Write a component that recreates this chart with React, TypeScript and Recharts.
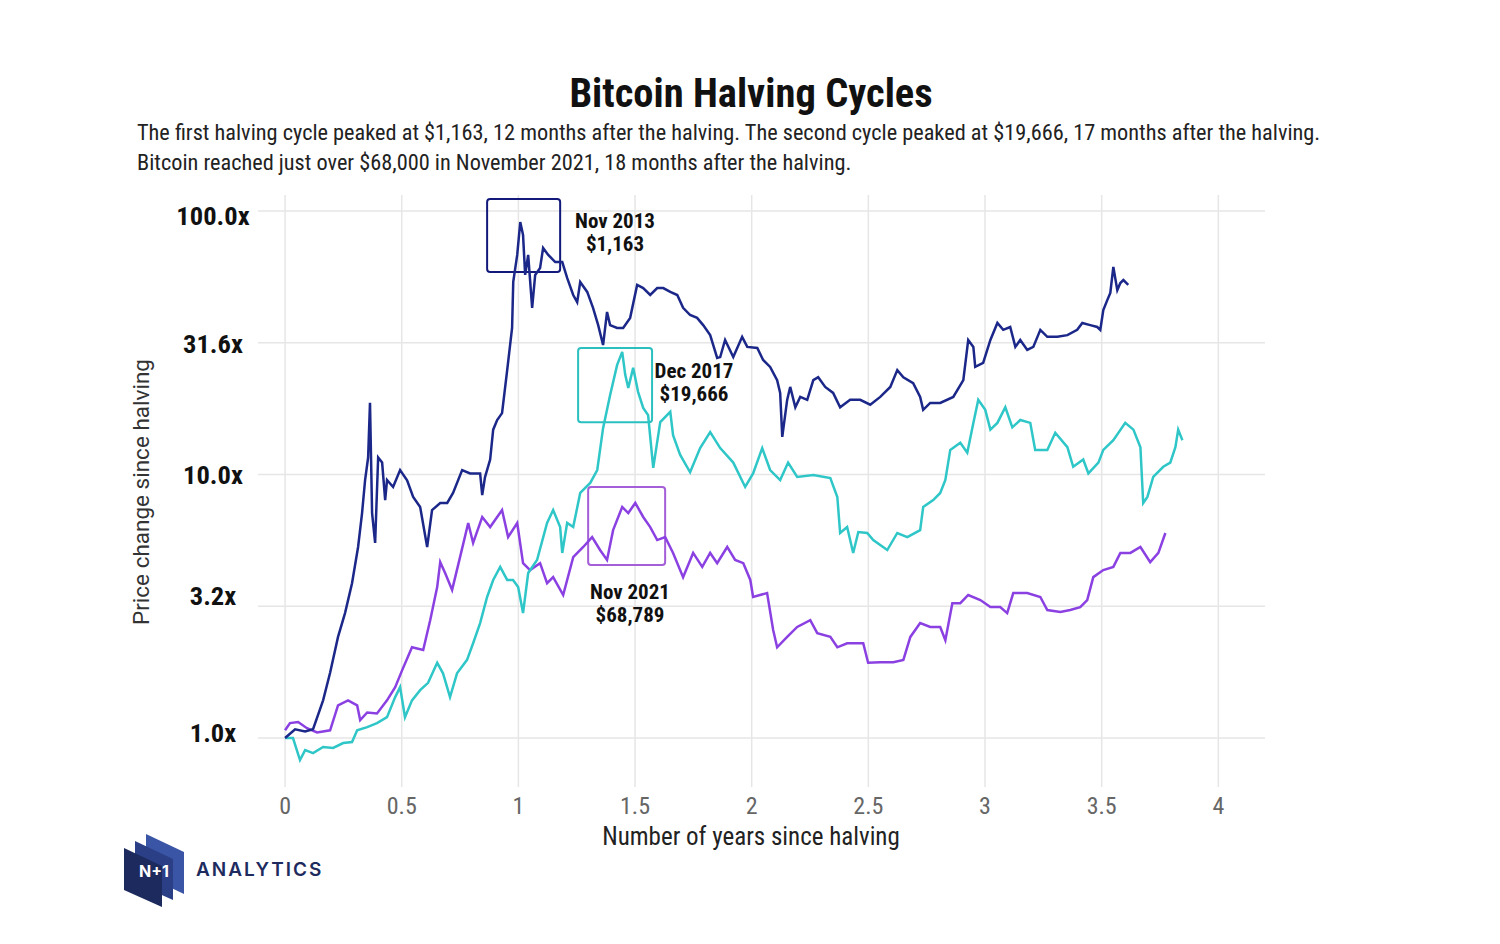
import React from "react";
import {
  LineChart,
  Line,
  XAxis,
  YAxis,
  CartesianGrid,
  ReferenceArea,
} from "recharts";

// [years since halving, price multiple since halving]
const cycle2012: [number, number][] = [
  [0, 1.0], [0.043, 1.08], [0.086, 1.06], [0.12, 1.08], [0.163, 1.39], [0.193, 1.77],
  [0.227, 2.42], [0.257, 2.98], [0.287, 3.87], [0.313, 5.31], [0.33, 7.14], [0.343, 9.53],
  [0.356, 11.6], [0.364, 18.7], [0.373, 7.14], [0.386, 5.5], [0.399, 11.6], [0.416, 11.1],
  [0.429, 8.0], [0.437, 9.53], [0.463, 8.97], [0.493, 10.4], [0.523, 9.5], [0.549, 8.22],
  [0.579, 7.53], [0.609, 5.31], [0.63, 7.33], [0.665, 7.8], [0.695, 7.8], [0.72, 8.51],
  [0.759, 10.4], [0.793, 10.1], [0.836, 10.1], [0.845, 8.36], [0.857, 9.78], [0.879, 11.4],
  [0.892, 14.8], [0.909, 16.1], [0.93, 17.1], [0.952, 24.9], [0.973, 36.0], [0.978, 53.8],
  [0.995, 68.1], [1.008, 90.8], [1.02, 81.1], [1.029, 57.2], [1.042, 68.1], [1.059, 42.9],
  [1.072, 57.2], [1.093, 60.8], [1.106, 72.4], [1.128, 68.1], [1.158, 64.0], [1.188, 64.0],
  [1.209, 55.7], [1.235, 48.0], [1.252, 45.1], [1.265, 53.8], [1.295, 49.3], [1.32, 42.9],
  [1.342, 36.9], [1.363, 31.0], [1.38, 41.4], [1.393, 36.9], [1.423, 36.0], [1.449, 36.0],
  [1.479, 39.3], [1.509, 52.4], [1.535, 51.0], [1.565, 48.0], [1.595, 51.0], [1.621, 51.0],
  [1.651, 49.3], [1.681, 48.0], [1.706, 42.9], [1.736, 40.3], [1.766, 39.3], [1.792, 36.9],
  [1.822, 33.8], [1.852, 27.7], [1.865, 27.9], [1.886, 32.4], [1.921, 27.9], [1.959, 33.3],
  [1.981, 30.5], [2.024, 30.2], [2.049, 27.2], [2.079, 25.6], [2.109, 22.8], [2.122, 20.4],
  [2.131, 13.9], [2.152, 19.2], [2.165, 21.5], [2.187, 18.0], [2.208, 19.7], [2.238, 19.2],
  [2.264, 22.8], [2.285, 23.4], [2.315, 21.5], [2.349, 20.4], [2.379, 18.0], [2.422, 19.2],
  [2.465, 19.2], [2.508, 18.4], [2.551, 19.7], [2.594, 21.5], [2.624, 24.9], [2.65, 23.4],
  [2.692, 22.2], [2.722, 19.7], [2.735, 17.6], [2.765, 18.7], [2.808, 18.7], [2.864, 19.7],
  [2.907, 22.8], [2.928, 32.4], [2.95, 30.5], [2.958, 25.6], [2.992, 26.5], [3.023, 32.4],
  [3.053, 37.6], [3.078, 35.4], [3.108, 36.3], [3.13, 30.5], [3.151, 32.4], [3.181, 29.7],
  [3.207, 30.5], [3.237, 35.4], [3.267, 33.3], [3.31, 33.3], [3.353, 33.8], [3.395, 35.4],
  [3.417, 37.6], [3.451, 36.9], [3.481, 36.3], [3.494, 35.4], [3.507, 42.1], [3.524, 45.9],
  [3.537, 48.9], [3.55, 61.3], [3.567, 50.1], [3.58, 53.3], [3.593, 54.7], [3.614, 52.4],
];

const cycle2016: [number, number][] = [
  [0, 1.0], [0.034, 1.0], [0.064, 0.825], [0.086, 0.9], [0.12, 0.877], [0.163, 0.925],
  [0.206, 0.917], [0.249, 0.957], [0.287, 0.966], [0.309, 1.07], [0.352, 1.1], [0.394, 1.14],
  [0.437, 1.2], [0.472, 1.43], [0.493, 1.56], [0.514, 1.2], [0.544, 1.39], [0.579, 1.52],
  [0.613, 1.62], [0.652, 1.93], [0.677, 1.76], [0.707, 1.43], [0.737, 1.76], [0.78, 1.98],
  [0.806, 2.29], [0.836, 2.73], [0.866, 3.43], [0.892, 3.98], [0.922, 4.46], [0.952, 3.98],
  [0.977, 3.98], [0.999, 3.74], [1.02, 2.98], [1.042, 4.23], [1.08, 4.74], [1.123, 6.55],
  [1.149, 7.33], [1.179, 6.32], [1.188, 5.04], [1.209, 6.55], [1.235, 6.32], [1.265, 8.51],
  [1.308, 9.29], [1.338, 10.4], [1.363, 15.0], [1.393, 20.0], [1.423, 26.0], [1.445, 29.2],
  [1.458, 23.9], [1.471, 21.3], [1.492, 25.4], [1.513, 20.6], [1.535, 17.9], [1.556, 16.8],
  [1.578, 10.6], [1.608, 15.8], [1.651, 17.3], [1.663, 14.1], [1.693, 11.9], [1.736, 10.2],
  [1.779, 12.6], [1.822, 14.5], [1.865, 12.6], [1.921, 11.1], [1.972, 8.97], [2.006, 10.1],
  [2.045, 12.6], [2.079, 10.4], [2.122, 9.53], [2.156, 11.1], [2.195, 9.79], [2.264, 9.96],
  [2.337, 9.7], [2.367, 8.22], [2.379, 6.0], [2.409, 6.32], [2.435, 5.04], [2.457, 6.05],
  [2.495, 6.0], [2.521, 5.64], [2.581, 5.17], [2.624, 6.0], [2.667, 5.79], [2.722, 6.15],
  [2.735, 7.53], [2.778, 8.0], [2.808, 8.51], [2.83, 9.53], [2.851, 12.4], [2.894, 13.2],
  [2.924, 12.1], [2.95, 15.7], [2.971, 19.2], [3.001, 17.6], [3.023, 14.8], [3.053, 15.7],
  [3.087, 18.0], [3.117, 15.1], [3.151, 16.1], [3.194, 15.7], [3.215, 12.4], [3.267, 12.4],
  [3.301, 14.4], [3.353, 12.7], [3.378, 10.7], [3.421, 11.4], [3.443, 10.1], [3.486, 11.1],
  [3.507, 12.4], [3.55, 13.5], [3.601, 15.7], [3.636, 14.8], [3.666, 12.7], [3.678, 7.8],
  [3.696, 8.22], [3.721, 9.79], [3.764, 10.7], [3.794, 11.1], [3.816, 12.7], [3.828, 14.8],
  [3.846, 13.5],
];

const cycle2020: [number, number][] = [
  [0, 1.07], [0.021, 1.14], [0.056, 1.15], [0.094, 1.09], [0.137, 1.05], [0.193, 1.07],
  [0.227, 1.33], [0.27, 1.39], [0.309, 1.33], [0.322, 1.17], [0.352, 1.25], [0.394, 1.24],
  [0.437, 1.39], [0.472, 1.56], [0.502, 1.81], [0.544, 2.21], [0.592, 2.16], [0.622, 2.8],
  [0.652, 3.74], [0.665, 4.65], [0.686, 4.23], [0.716, 3.65], [0.75, 4.86], [0.785, 6.55],
  [0.806, 5.5], [0.845, 6.9], [0.879, 6.32], [0.93, 7.33], [0.956, 5.79], [0.995, 6.55],
  [1.02, 4.61], [1.05, 4.34], [1.093, 4.61], [1.123, 3.87], [1.149, 4.08], [1.192, 3.49],
  [1.235, 4.86], [1.278, 5.31], [1.316, 5.79], [1.35, 5.17], [1.38, 4.74], [1.406, 6.15],
  [1.445, 7.53], [1.471, 7.14], [1.501, 7.8], [1.535, 6.9], [1.565, 6.32], [1.595, 5.64],
  [1.629, 5.79], [1.663, 5.04], [1.706, 4.08], [1.749, 5.04], [1.788, 4.46], [1.822, 5.04],
  [1.852, 4.61], [1.895, 5.31], [1.929, 4.74], [1.964, 4.61], [1.994, 3.98], [2.006, 3.43],
  [2.066, 3.55], [2.092, 2.57], [2.109, 2.21], [2.152, 2.42], [2.195, 2.64], [2.251, 2.8],
  [2.281, 2.5], [2.337, 2.42], [2.367, 2.21], [2.409, 2.29], [2.478, 2.29], [2.499, 1.93],
  [2.551, 1.94], [2.607, 1.94], [2.65, 1.98], [2.68, 2.42], [2.722, 2.73], [2.765, 2.64],
  [2.808, 2.64], [2.83, 2.35], [2.86, 3.25], [2.894, 3.25], [2.928, 3.49], [2.98, 3.34],
  [3.023, 3.14], [3.065, 3.14], [3.095, 2.98], [3.121, 3.55], [3.181, 3.55], [3.237, 3.43],
  [3.267, 3.06], [3.323, 3.01], [3.365, 3.06], [3.408, 3.14], [3.438, 3.34], [3.464, 4.08],
  [3.507, 4.34], [3.55, 4.46], [3.58, 5.04], [3.623, 5.04], [3.666, 5.31], [3.708, 4.65],
  [3.743, 5.04], [3.773, 6.0],
];

const xTicks = [0, 0.5, 1, 1.5, 2, 2.5, 3, 3.5, 4];
const yTicks = [1, 3.1623, 10, 31.623, 100];
// the y tick labels sit a little off their grid lines in the original
const yLabelShift = [-6, -11, 0, 1, 5];

const toRows = (pts: [number, number][]) => pts.map(([t, v]) => ({ t, v }));

const COND = "'Roboto Condensed', 'Liberation Sans Narrow', Roboto, sans-serif";

const NAVY = "#1b2789";
const TEAL = "#2fc6c8";
const PURPLE = "#8b40e2";

function YTick({ y, payload, index }: any) {
  return (
    <text
      x={213}
      y={y + (yLabelShift[index] ?? 0)}
      textAnchor="middle"
      dominantBaseline="central"
      fontFamily={COND}
      fontWeight={700}
      fontSize={26.5}
      fill="#111"
    >
      {payload.value.toFixed(1) + "x"}
    </text>
  );
}

function XTick({ x, payload }: any) {
  return (
    <text x={x} y={814} textAnchor="middle" fontFamily={COND} fontSize={24} fill="#666">
      {payload.value}
    </text>
  );
}

const note = (left: number, top: number, lines: string[]) => (
  <div
    style={{
      position: "absolute",
      left,
      top,
      transform: "translateX(-50%)",
      textAlign: "center",
      fontFamily: COND,
      fontWeight: 700,
      fontSize: 21,
      lineHeight: "23px",
      color: "#111",
      whiteSpace: "nowrap",
    }}
  >
    {lines.map((l) => (
      <div key={l}>{l}</div>
    ))}
  </div>
);

export default function App() {
  return (
    <div
      style={{
        position: "absolute",
        left: 0,
        top: 0,
        width: 1500,
        height: 944,
        background: "#fff",
        overflow: "hidden",
      }}
    >
      <div
        style={{
          position: "absolute",
          left: 751,
          top: 69,
          transform: "translateX(-50%)",
          fontFamily: COND,
          fontWeight: 700,
          fontSize: 40.5,
          lineHeight: "48px",
          color: "#111",
          whiteSpace: "nowrap",
        }}
      >
        Bitcoin Halving Cycles
      </div>
      <div
        style={{
          position: "absolute",
          left: 137,
          top: 117,
          fontFamily: COND,
          fontSize: 22.3,
          lineHeight: "30px",
          color: "#222",
          whiteSpace: "nowrap",
        }}
      >
        <div>
          The first halving cycle peaked at $1,163, 12 months after the halving. The second cycle
          peaked at $19,666, 17 months after the halving.
        </div>
        <div>Bitcoin reached just over $68,000 in November 2021, 18 months after the halving.</div>
      </div>

      <div style={{ position: "absolute", left: 0, top: 0 }}>
        <LineChart
          width={1500}
          height={944}
          margin={{ top: 195, right: 235, bottom: 117, left: 158 }}
        >
          <CartesianGrid
            stroke="#e6e6e6"
            strokeWidth={1.5}
            horizontalValues={yTicks}
            verticalValues={xTicks}
          />
          <XAxis
            dataKey="t"
            type="number"
            domain={[-0.116, 4.2]}
            ticks={xTicks}
            allowDataOverflow
            axisLine={false}
            tickLine={false}
            height={40}
            tick={<XTick />}
          />
          <YAxis
            type="number"
            scale="log"
            domain={[0.652, 115]}
            ticks={yTicks}
            allowDataOverflow
            axisLine={false}
            tickLine={false}
            width={100}
            tick={<YTick />}
          />
          <Line
            data={toRows(cycle2020)}
            dataKey="v"
            stroke={PURPLE}
            strokeWidth={2.5}
            dot={false}
            isAnimationActive={false}
          />
          <Line
            data={toRows(cycle2016)}
            dataKey="v"
            stroke={TEAL}
            strokeWidth={2.5}
            dot={false}
            isAnimationActive={false}
          />
          <Line
            data={toRows(cycle2012)}
            dataKey="v"
            stroke={NAVY}
            strokeWidth={2.5}
            dot={false}
            isAnimationActive={false}
          />
          <ReferenceArea x1={0.866} x2={1.179} y1={58.7} y2={111} fill="none" stroke="#12197a" strokeWidth={2} radius={3} />
          <ReferenceArea x1={1.256} x2={1.573} y1={15.8} y2={30.2} fill="none" stroke="#2bc0c0" strokeWidth={2} radius={3} />
          <ReferenceArea x1={1.299} x2={1.629} y1={4.54} y2={8.97} fill="none" stroke="#a45ed8" strokeWidth={2} radius={3} />
        </LineChart>
      </div>

      {note(615, 210, ["Nov 2013", "$1,163"])}
      {note(694, 360, ["Dec 2017", "$19,666"])}
      {note(630, 581, ["Nov 2021", "$68,789"])}

      <div
        style={{
          position: "absolute",
          left: 141,
          top: 492,
          transform: "translate(-50%, -50%) rotate(-90deg)",
          fontFamily: "Roboto, sans-serif",
          fontSize: 22.5,
          color: "#333",
          whiteSpace: "nowrap",
        }}
      >
        Price change since halving
      </div>
      <div
        style={{
          position: "absolute",
          left: 751,
          top: 822,
          transform: "translateX(-50%)",
          fontFamily: COND,
          fontSize: 25,
          lineHeight: "30px",
          color: "#222",
          whiteSpace: "nowrap",
        }}
      >
        Number of years since halving
      </div>

      <svg style={{ position: "absolute", left: 120, top: 828 }} width={80} height={84}>
        <polygon points="26,6 64,24 64,66 26,48" fill="#3b55a6" />
        <polygon points="15,13 53,31 53,72 15,55" fill="#2a3f86" />
        <polygon points="4,20 42,38 42,79 4,62" fill="#1c2a5e" />
        <text x={34} y={49} textAnchor="middle" fontFamily="Inter, Roboto, sans-serif" fontWeight={700} fontSize={16} fill="#fff">
          N+1
        </text>
      </svg>
      <div
        style={{
          position: "absolute",
          left: 196,
          top: 858,
          fontFamily: "Inter, Roboto, sans-serif",
          fontWeight: 600,
          fontSize: 19,
          letterSpacing: 2,
          color: "#1d2b5e",
        }}
      >
        ANALYTICS
      </div>
    </div>
  );
}
